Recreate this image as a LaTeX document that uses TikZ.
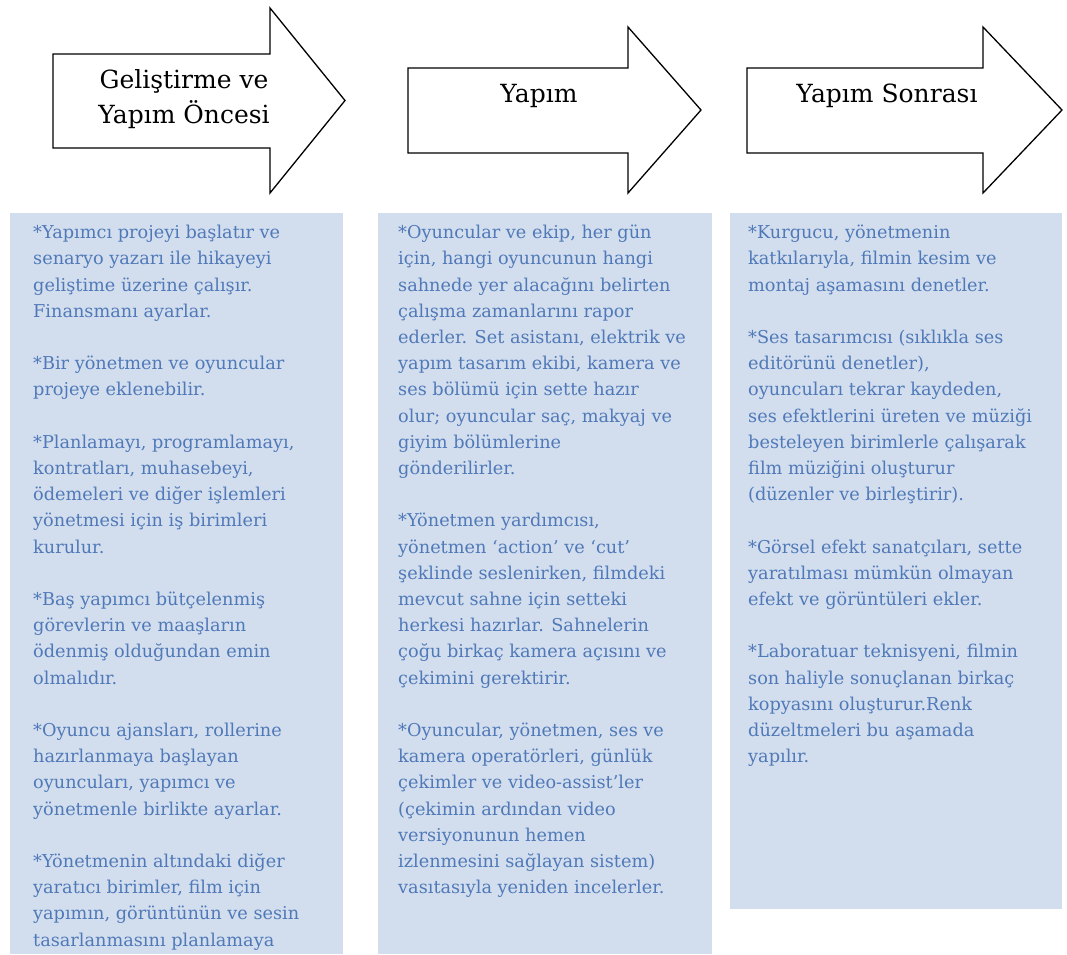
\documentclass[tikz,border=0pt]{standalone}
\usepackage{fontspec}
\setmainfont{DejaVu Serif}
\usepackage{xcolor}
\definecolor{boxblue}{RGB}{210,222,238}
\definecolor{noteblue}{RGB}{80,121,184}
\usetikzlibrary{positioning}

\begin{document}
\begin{tikzpicture}[x=1pt,y=-1pt,
    phase/.style={draw=black,fill=white,line width=1.3pt,line join=miter},
    phasetitle/.style={font=\fontsize{25}{34.5}\selectfont,align=center,inner sep=0pt,anchor=base},
    notes/.style={font=\fontsize{17.7}{26.2}\selectfont,text=noteblue,align=left,inner sep=0pt,anchor=north west}]
  \useasboundingbox (0,0) rectangle (1067,954);
  % phase arrows
  \draw[phase] (53,54)--(270,54)--(270,8)--(345,100.5)--(270,193)--(270,148)--(53,148)--cycle;
  \draw[phase] (408,68)--(628,68)--(628,27)--(701,110)--(628,193)--(628,153)--(408,153)--cycle;
  \draw[phase] (747,68)--(983,68)--(983,27)--(1062,110)--(983,193)--(983,153)--(747,153)--cycle;
  \node[phasetitle] (pre) at (184,123) {Geliştirme ve\\Yapım Öncesi};
  \node[phasetitle] (prod) at (539,102) {Yapım};
  \node[phasetitle] (post) at (887,102) {Yapım Sonrası};
  % note boxes
  \fill[boxblue] (10,213) rectangle (343,954);
  \fill[boxblue] (378,213) rectangle (712,954);
  \fill[boxblue] (730,213) rectangle (1062,909);
  \node[notes] (prenotes) at (33,225) {*Yapımcı projeyi başlatır ve\\
    senaryo yazarı ile hikayeyi\\
    geliştime üzerine çalışır.\\
    Finansmanı ayarlar.\\[26.2pt]
    *Bir yönetmen ve oyuncular\\
    projeye eklenebilir.\\[26.2pt]
    *Planlamayı, programlamayı,\\
    kontratları, muhasebeyi,\\
    ödemeleri ve diğer işlemleri\\
    yönetmesi için iş birimleri\\
    kurulur.\\[26.2pt]
    *Baş yapımcı bütçelenmiş\\
    görevlerin ve maaşların\\
    ödenmiş olduğundan emin\\
    olmalıdır.\\[26.2pt]
    *Oyuncu ajansları, rollerine\\
    hazırlanmaya başlayan\\
    oyuncuları, yapımcı ve\\
    yönetmenle birlikte ayarlar.\\[26.2pt]
    *Yönetmenin altındaki diğer\\
    yaratıcı birimler, film için\\
    yapımın, görüntünün ve sesin\\
    tasarlanmasını planlamaya};
  \node[notes] (prodnotes) at (398,225) {*Oyuncular ve ekip, her gün\\
    için, hangi oyuncunun hangi\\
    sahnede yer alacağını belirten\\
    çalışma zamanlarını rapor\\
    ederler. Set asistanı, elektrik ve\\
    yapım tasarım ekibi, kamera ve\\
    ses bölümü için sette hazır\\
    olur; oyuncular saç, makyaj ve\\
    giyim bölümlerine\\
    gönderilirler.\\[26.2pt]
    *Yönetmen yardımcısı,\\
    yönetmen ‘action’ ve ‘cut’\\
    şeklinde seslenirken, filmdeki\\
    mevcut sahne için setteki\\
    herkesi hazırlar. Sahnelerin\\
    çoğu birkaç kamera açısını ve\\
    çekimini gerektirir.\\[26.2pt]
    *Oyuncular, yönetmen, ses ve\\
    kamera operatörleri, günlük\\
    çekimler ve video-assist’ler\\
    (çekimin ardından video\\
    versiyonunun hemen\\
    izlenmesini sağlayan sistem)\\
    vasıtasıyla yeniden incelerler.};
  \node[notes] (postnotes) at (748,225) {*Kurgucu, yönetmenin\\
    katkılarıyla, filmin kesim ve\\
    montaj aşamasını denetler.\\[26.2pt]
    *Ses tasarımcısı (sıklıkla ses\\
    editörünü denetler),\\
    oyuncuları tekrar kaydeden,\\
    ses efektlerini üreten ve müziği\\
    besteleyen birimlerle çalışarak\\
    film müziğini oluşturur\\
    (düzenler ve birleştirir).\\[26.2pt]
    *Görsel efekt sanatçıları, sette\\
    yaratılması mümkün olmayan\\
    efekt ve görüntüleri ekler.\\[26.2pt]
    *Laboratuar teknisyeni, filmin\\
    son haliyle sonuçlanan birkaç\\
    kopyasını oluşturur.Renk\\
    düzeltmeleri bu aşamada\\
    yapılır.};
\end{tikzpicture}
\end{document}
